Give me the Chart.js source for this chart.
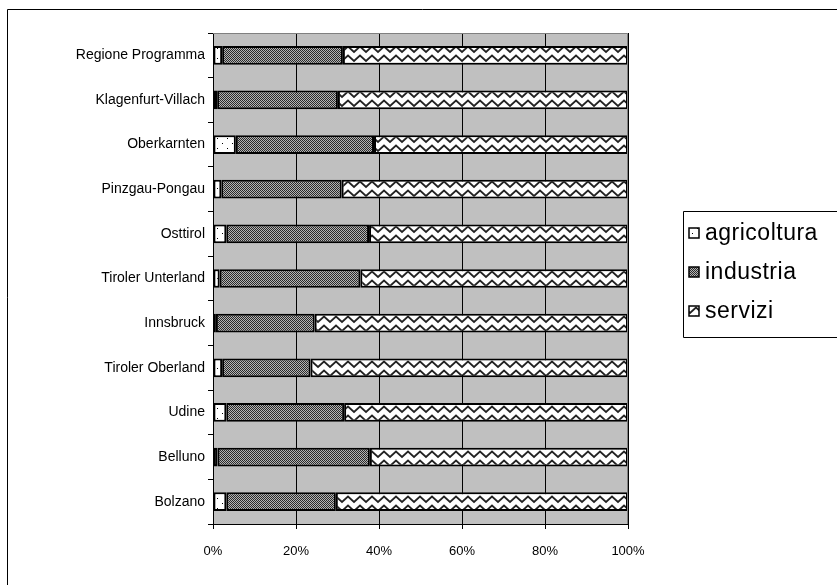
<!DOCTYPE html>
<html lang="it">
<head>
  <meta charset="UTF-8" />
  <title>Occupazione per settore</title>
  <script src="https://cdn.jsdelivr.net/npm/chart.js@4.4.0/dist/chart.umd.min.js"></script>
  <style>
    html, body { margin: 0; padding: 0; background: #fff; }
    #wrap { width: 837px; height: 585px; position: relative; }
  </style>
</head>
<body>
  <div id="wrap"><canvas id="chart"></canvas></div>

  <script>
    const regions = [
      "Regione Programma", "Klagenfurt-Villach", "Oberkarnten", "Pinzgau-Pongau",
      "Osttirol", "Tiroler Unterland", "Innsbruck", "Tiroler Oberland",
      "Udine", "Belluno", "Bolzano"
    ];
    const agricoltura = [2.2, 1.0, 5.5, 2.0, 3.2, 1.6, 0.7, 2.2, 3.2, 1.1, 3.2];
    const industria   = [29.1, 29.1, 33.3, 29.0, 34.4, 33.9, 23.8, 21.3, 28.4, 36.7, 26.4];
    const servizi     = [68.7, 69.9, 61.2, 69.0, 62.4, 64.5, 75.5, 76.5, 68.4, 62.2, 70.4];
    const seriesNames = ["agricoltura", "industria", "servizi"];
    const xTicks = [0, 20, 40, 60, 80, 100];

    const FONT = "'Liberation Sans', Arial, sans-serif";

    // pattern tiles
    function makeTile(w, h, draw) {
      const c = document.createElement("canvas");
      c.width = w; c.height = h;
      draw(c.getContext("2d"));
      return c;
    }
    const ctx = document.getElementById("chart").getContext("2d");

    const agrTile = makeTile(10, 10, g => {
      g.fillStyle = "#fff"; g.fillRect(0, 0, 10, 10);
      g.fillStyle = "#000"; g.fillRect(2, 3, 1, 1); g.fillRect(7, 8, 1, 1);
    });
    const indTile = makeTile(2, 2, g => {
      g.fillStyle = "#b4b4b4"; g.fillRect(0, 0, 2, 2);
      g.fillStyle = "#2a2a2a"; g.fillRect(0, 0, 1, 1); g.fillRect(1, 1, 1, 1);
    });
    const serTile = makeTile(12, 9, g => {
      g.fillStyle = "#fff"; g.fillRect(0, 0, 12, 9);
      g.strokeStyle = "#222"; g.lineWidth = 1.8;
      g.beginPath();
      g.moveTo(-3, 4.5); g.lineTo(0, 1.5); g.lineTo(6, 7); g.lineTo(12, 1.5); g.lineTo(15, 4.5);
      g.stroke();
    });
    const patterns = [
      ctx.createPattern(agrTile, "repeat"),
      ctx.createPattern(indTile, "repeat"),
      ctx.createPattern(serTile, "repeat")
    ];

    const framePlugin = {
      id: "frame",
      beforeDraw(chart) {
        const { ctx: c, chartArea: a } = chart;
        c.save();
        c.fillStyle = "#c0c0c0";
        c.fillRect(a.left, a.top, a.right - a.left, a.bottom - a.top);
        c.restore();
      },
      afterDraw(chart) {
        const { ctx: c, chartArea: a } = chart;
        c.save();
        // plot area border (top, right)
        c.strokeStyle = "#808080";
        c.lineWidth = 1;
        c.beginPath();
        c.moveTo(a.left, a.top + 0.5); c.lineTo(a.right - 0.5, a.top + 0.5);
        c.lineTo(a.right - 0.5, a.bottom);
        c.stroke();
        // outer frame
        c.strokeStyle = "#000";
        c.beginPath();
        c.moveTo(7.5, 585); c.lineTo(7.5, 9.5); c.lineTo(837, 9.5);
        c.stroke();
        // legend
        c.beginPath();
        c.rect(683.5, 211.5, 160, 126);
        c.stroke();
        c.font = "23px " + FONT;
        c.letterSpacing = "0.5px";
        c.textBaseline = "middle";
        const ys = [233, 272, 311];
        seriesNames.forEach((name, i) => {
          c.fillStyle = patterns[i];
          c.fillRect(689, ys[i] - 5, 10, 10);
          c.strokeStyle = "#000";
          c.lineWidth = 1.5;
          c.strokeRect(689, ys[i] - 5, 10, 10);
          c.fillStyle = "#000";
          c.fillText(name, 705, ys[i] + 1);
        });
        c.restore();
      }
    };

    const values = [agricoltura, industria, servizi];

    new Chart(ctx, {
      type: "bar",
      data: {
        labels: regions,
        datasets: seriesNames.map((name, i) => ({
          label: name,
          data: values[i],
          backgroundColor: patterns[i],
          borderColor: "#000",
          borderWidth: 2,
          borderSkipped: false,
          categoryPercentage: 1,
          barPercentage: 0.42
        }))
      },
      options: {
        indexAxis: "y",
        responsive: true,
        maintainAspectRatio: false,
        animation: false,
        layout: { padding: { left: 0, right: 209, top: 33, bottom: 21 } },
        plugins: {
          legend: { display: false },
          tooltip: { enabled: false }
        },
        scales: {
          x: {
            stacked: true,
            min: 0,
            max: 100,
            afterBuildTicks: s => { s.ticks = xTicks.map(v => ({ value: v })); },
            afterFit: s => { s.height = 40; },
            ticks: {
              color: "#000",
              font: { family: FONT, size: 13 },
              padding: 15,
              maxRotation: 0,
              callback: v => v + "%"
            },
            grid: { color: "#000", lineWidth: 1, tickLength: 5, tickColor: "#000" },
            border: { color: "#000", width: 1 }
          },
          y: {
            stacked: true,
            afterFit: s => { s.width = 213; },
            ticks: {
              color: "#000",
              font: { family: FONT, size: 14 },
              padding: 3
            },
            grid: { drawOnChartArea: false, offset: true, tickLength: 5, tickColor: "#000" },
            border: { color: "#000", width: 1 }
          }
        }
      },
      plugins: [framePlugin]
    });
  </script>
</body>
</html>
